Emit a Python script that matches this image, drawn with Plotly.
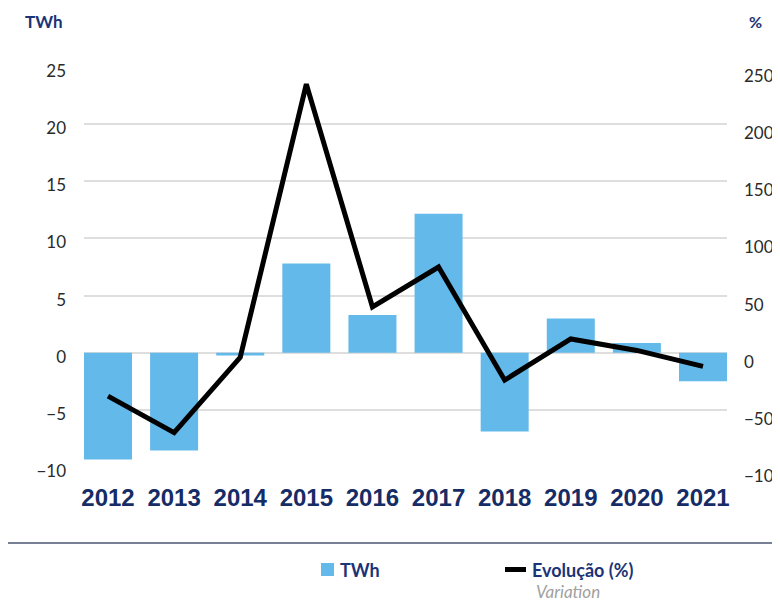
import plotly.graph_objects as go

years = ["2012", "2013", "2014", "2015", "2016", "2017", "2018", "2019", "2020", "2021"]
twh = [-9.35, -8.55, -0.25, 7.8, 3.3, 12.15, -6.9, 3.0, 0.85, -2.5]
evolucao = [-38, -70, -4, 235, 40, 75, -24, 12, 2, -12]

left_ticks = [-10, -5, 0, 5, 10, 15, 20, 25]
right_ticks = [-100, -50, 0, 50, 100, 150, 200, 250]

BAR = "#63b9e9"
NAVY = "#1b3475"
TXT = "#2a2a2a"

# The page body has an 8px margin: work in screenshot pixels, then offset.
OFF = 8
FW, FH = 780 - OFF, 600 - OFF
L, R, T, B = 84, 727, 67, 467          # plot area in screenshot pixels
W, H = R - L, B - T
def px(x):
    return (x - L) / W
def py(y):
    return (B - y) / H

fig = go.Figure()
fig.add_trace(go.Bar(x=years, y=twh, marker_color=BAR, marker_line_width=0,
                     name="TWh", yaxis="y"))
fig.add_trace(go.Scatter(x=years, y=evolucao, mode="lines",
                         line=dict(color="black", width=5),
                         name="Evolução (%)", yaxis="y2"))

fig.update_layout(
    width=FW, height=FH,
    margin=dict(l=L - OFF, r=FW - (R - OFF), t=T - OFF, b=FH - (B - OFF), pad=0),
    paper_bgcolor="white", plot_bgcolor="white",
    showlegend=False, bargap=0.274,
    font=dict(family="Lato, Open Sans, sans-serif", color=TXT),
    xaxis=dict(type="category", range=[-0.363, 9.363], showgrid=False,
               zeroline=False, showline=False, ticks="", tickangle=0,
               automargin=False,
               tickfont=dict(family="Liberation Sans, Arial, sans-serif",
                             size=24, color="#162c66", weight="bold"),
               ticklabelstandoff=14),
    yaxis=dict(range=[-10, 25], tickvals=left_ticks, showgrid=True,
               gridcolor="#dedede", gridwidth=1.5, zeroline=False,
               showline=False, ticks="", tickfont=dict(size=17, color=TXT),
               automargin=False,
               ticklabelstandoff=17, ticklabelshift=4),
    yaxis2=dict(range=[-100, 250], tickvals=right_ticks, overlaying="y",
                side="right", showgrid=False, zeroline=False, showline=False,
                ticks="", tickfont=dict(size=17, color=TXT), automargin=False,
                ticklabelstandoff=16, ticklabelshift=9),
)

shapes = []
# divider line
shapes.append(dict(type="line", xref="paper", yref="paper",
                   x0=px(0), x1=px(790), y0=py(543), y1=py(543),
                   line=dict(color="#4a5672", width=1.5)))
# legend swatches
shapes.append(dict(type="rect", xref="paper", yref="paper",
                   x0=px(321), x1=px(334), y0=py(576), y1=py(563),
                   fillcolor=BAR, line=dict(width=0)))
shapes.append(dict(type="line", xref="paper", yref="paper",
                   x0=px(505), x1=px(526), y0=py(569.5), y1=py(569.5),
                   line=dict(color="black", width=5)))
fig.update_layout(shapes=shapes)

ann = [
    dict(text="<b>TWh</b>", x=px(23), y=py(21), xanchor="left", yanchor="middle",
         font=dict(size=17, color=NAVY)),
    dict(text="<b>%</b>", x=px(747), y=py(21), xanchor="left", yanchor="middle",
         font=dict(size=16, color=NAVY)),
    dict(text="<b>TWh</b>", x=px(338), y=py(569.5), xanchor="left", yanchor="middle",
         font=dict(size=18, color=NAVY)),
    dict(text="<b>Evolução (%)</b>", x=px(530), y=py(569.5), xanchor="left", yanchor="middle",
         font=dict(size=18, color=NAVY)),
    dict(text="<i>Variation</i>", x=px(534), y=py(591), xanchor="left", yanchor="middle",
         font=dict(size=17, color="#a0a0a0")),
]
for a in ann:
    a.update(xref="paper", yref="paper", showarrow=False)
fig.update_layout(annotations=ann)

fig.write_html("out.html")
